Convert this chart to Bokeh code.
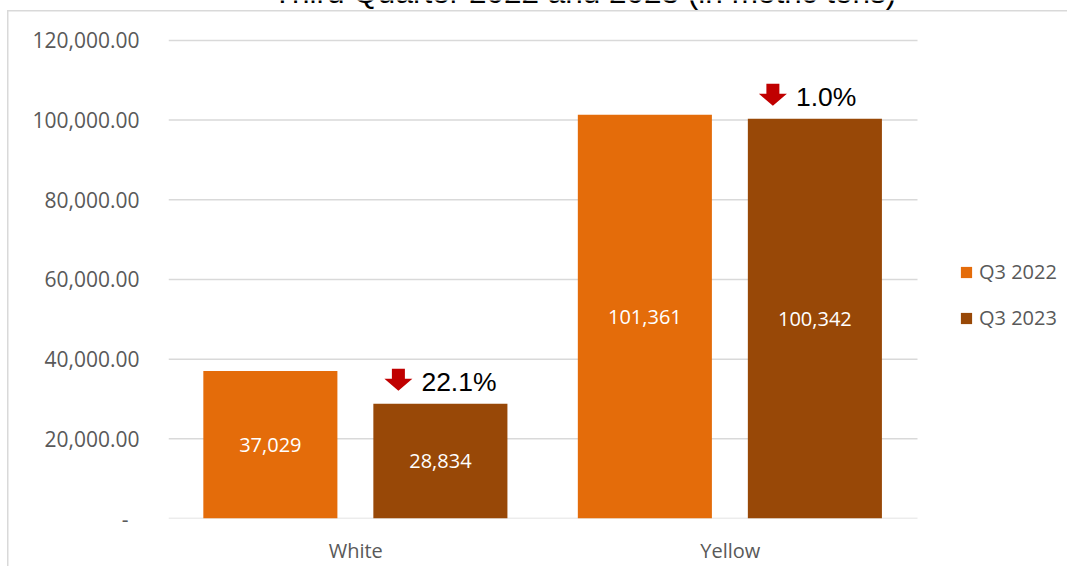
from bokeh.plotting import figure
from bokeh.models import (Range1d, ColumnDataSource, Label, Legend,
                          LegendItem, CustomJSTickFormatter, FixedTicker)
from bokeh.transform import dodge
from bokeh.core.properties import value
from bokeh.embed import file_html
from bokeh.resources import INLINE

# ---------------- data ----------------
categories = ["White", "Yellow"]
series_names = ["Q3 2022", "Q3 2023"]
q3_2022 = [37029, 101361]
q3_2023 = [28834, 100342]
y_ticks = [0, 20000, 40000, 60000, 80000, 100000, 120000]
title_text = "Third Quarter 2022 and 2023 (in metric tons)"

# ---------------- style / layout ----------------
C22 = "#E46C0A"
C23 = "#984807"
GRID = "#d9d9d9"
TXT = "#595959"
FONT = "Open Sans"

W, H = 1067, 566
L, B = 168, 47
CAT_PX = 749          # pixel width of the category area
AX_PX = 479           # pixel height from 0 to the top tick
FW = W - L
FH = H - B
Y_TOP = y_ticks[-1]
X_MAX = len(categories) * FW / CAT_PX
Y_MAX = Y_TOP * FH / AX_PX
OFF1, OFF2, BW = -0.228, 0.226, 0.358

cat_pos = [i + 0.5 for i in range(len(categories))]

p = figure(x_range=Range1d(0, X_MAX), y_range=Range1d(0, Y_MAX),
           width=W, height=H, output_backend="svg", toolbar_location=None,
           min_border_left=L, min_border_right=0,
           min_border_top=0, min_border_bottom=B)

p.styles = {
    "background-image": f"linear-gradient({GRID},{GRID}), linear-gradient({GRID},{GRID})",
    "background-size": "1.5px 100%, 100% 1.5px",
    "background-position": "7px 10px, 7px 10px",
    "background-repeat": "no-repeat",
}
p.border_fill_color = None
p.background_fill_color = None
p.outline_line_color = None
p.xgrid.visible = False
p.ygrid.visible = False

# gridlines spanning the category area only
p.segment(x0=0, x1=len(categories), y0=y_ticks, y1=y_ticks,
          line_color=GRID, line_width=1.5)

src = ColumnDataSource(dict(
    pos=cat_pos,
    q22=q3_2022,
    q23=q3_2023,
    q22_mid=[v / 2 for v in q3_2022],
    q23_mid=[v / 2 for v in q3_2023],
    q22_lbl=[f"{v:,}" for v in q3_2022],
    q23_lbl=[f"{v:,}" for v in q3_2023],
    pct=[f"{abs((b - a) / a) * 100:.1f}%" for a, b in zip(q3_2022, q3_2023)],
))

r1 = p.vbar(x=dodge("pos", OFF1), top="q22", width=BW,
            fill_color=C22, line_color=None, source=src)
r2 = p.vbar(x=dodge("pos", OFF2), top="q23", width=BW,
            fill_color=C23, line_color=None, source=src)

for col_x, col_y, col_t in [(OFF1, "q22_mid", "q22_lbl"), (OFF2, "q23_mid", "q23_lbl")]:
    p.text(x=dodge("pos", col_x), y=col_y, text=col_t, source=src,
           text_align="center", text_baseline="middle", text_color="white",
           text_font=value(FONT), text_font_size="20px")

# down arrows (head + stem), sized in pixels and converted through the scales
ux = len(categories) / CAT_PX   # data units per px (x)
uy = Y_TOP / AX_PX              # data units per px (y)
shape = [(0, 0), (14, 12), (6.5, 12), (6.5, 22), (-6.5, 22), (-6.5, 12), (-14, 12)]
xs, ys = [], []
for cp, v in zip(cat_pos, q3_2023):
    cx = cp + OFF2 - 42 * ux
    by = v + 13 * uy
    xs.append([cx + dx * ux for dx, dy in shape])
    ys.append([by + dy * uy for dx, dy in shape])
p.patches(xs=xs, ys=ys, fill_color="#C00000", line_color=None)

p.text(x=dodge("pos", OFF2), y="q23", text="pct", source=src,
       x_offset=-19, y_offset=-22, text_align="left", text_baseline="alphabetic",
       text_color="black", text_font=value("Liberation Sans"), text_font_size="26.5px")

# title (cut at top as in the reference)
p.add_layout(Label(x=416, y=FH + 8, x_units="screen", y_units="screen", text=title_text,
                   text_align="center", text_baseline="alphabetic",
                   text_font="Liberation Sans", text_font_size="31.5px",
                   text_color="black"))

# axes
p.yaxis.ticker = FixedTicker(ticks=y_ticks)
p.yaxis.formatter = CustomJSTickFormatter(code="""
    if (tick == 0) { return '-\\u00a0\\u00a0'; }
    return tick.toLocaleString('en-US', {minimumFractionDigits: 2, maximumFractionDigits: 2});
""")
p.xaxis.ticker = FixedTicker(ticks=cat_pos)
p.xaxis.major_label_overrides = {cp: c for cp, c in zip(cat_pos, categories)}
for ax, standoff in [(p.yaxis, 29), (p.xaxis, 18)]:
    ax.axis_line_color = None
    ax.major_tick_line_color = None
    ax.minor_tick_line_color = None
    ax.major_tick_out = 0
    ax.major_tick_in = 0
    ax.minor_tick_out = 0
    ax.major_label_standoff = standoff
    ax.major_label_text_font = FONT
    ax.major_label_text_font_size = "21px"
    ax.major_label_text_color = TXT
p.xaxis.major_label_text_font_size = "20px"

legend = Legend(items=[LegendItem(label=series_names[0], renderers=[r1]),
                       LegendItem(label=series_names[1], renderers=[r2])],
                location=(791, 187), orientation="vertical",
                glyph_width=14, glyph_height=14, label_standoff=6,
                spacing=19, padding=0, margin=0, border_line_color=None,
                background_fill_alpha=0, label_text_font=FONT,
                label_text_font_size="20px", label_text_color=TXT)
p.add_layout(legend)

open("out.html", "w").write(file_html(p, INLINE))
